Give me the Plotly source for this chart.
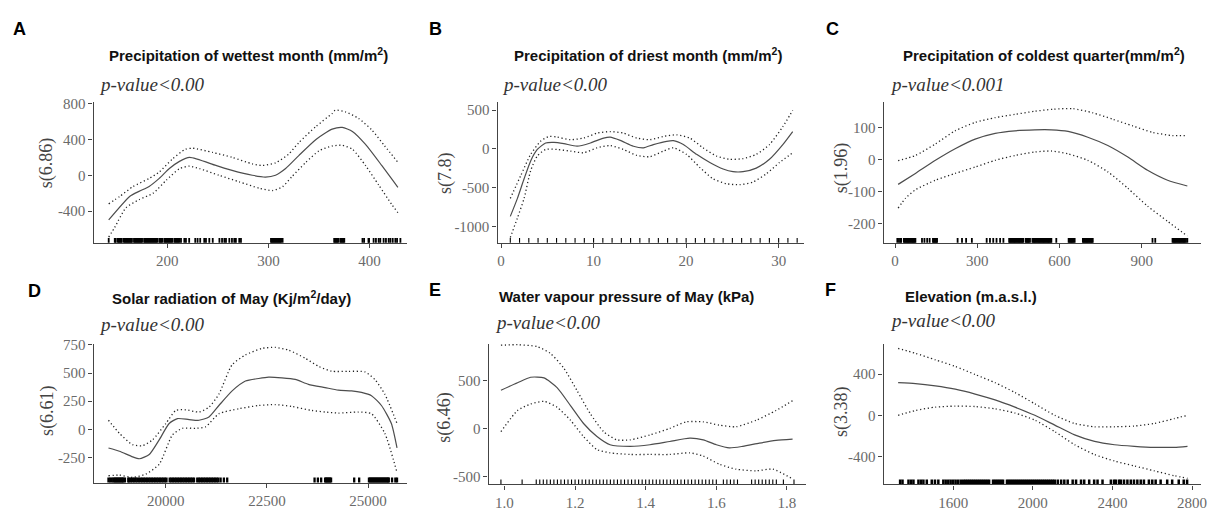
import plotly.graph_objects as go

W, H = 1213, 511

# ------------------------------------------------------------
# DATA
# ------------------------------------------------------------
# A - precipitation of wettest month
a_x = [142, 163, 172, 182, 192, 202, 212, 222, 248, 264, 284, 297, 307, 317, 330, 347, 363, 373, 383, 396, 412, 428]
a_fit = [-500, -235, -180, -125, -35, 75, 155, 200, 110, 55, 0, -20, 0, 75, 220, 400, 515, 535, 490, 345, 110, -135]
a_up_x = [142, 153, 166, 182, 192, 205, 218, 225, 245, 264, 284, 294, 307, 320, 330, 347, 363, 366, 376, 389, 402, 415, 428]
a_up = [-320, -236, -127, -36, 36, 182, 291, 302, 255, 200, 127, 109, 138, 236, 364, 545, 691, 727, 709, 636, 509, 327, 145]
a_lo_x = [142, 148, 159, 172, 186, 199, 212, 222, 232, 251, 271, 291, 304, 314, 323, 337, 350, 363, 373, 383, 396, 409, 422, 428]
a_lo = [-691, -582, -364, -273, -200, -55, 73, 102, 73, 0, -73, -145, -171, -127, -18, 145, 273, 327, 335, 291, 109, -109, -327, -418]
a_rug = [142, 148, 149, 151, 152, 153, 154, 155, 157, 158, 159, 160, 161, 162, 163, 164, 165, 167, 168, 169,
         170, 171, 172, 173, 174, 175, 177, 178, 179, 180, 181, 182, 183, 184, 185, 186, 187, 188, 189, 190,
         192, 193, 194, 195, 197, 198, 199, 200, 201, 202, 203, 204, 205, 207, 208, 209, 210, 211, 212,
         213.5, 216.8, 218.4, 221.6, 227.6, 229.9, 232.5, 236.5, 238.2, 241.5, 244.9,
         251.5, 254.1, 256.4, 258, 261.3, 263.9, 266.2, 267.8, 271.1, 272.8,
         302.5, 303.5, 304.5, 305.5, 306.5, 307.5, 308.5, 309.5, 310.5, 311.5, 312.5, 314,
         365, 366, 367, 368, 369, 371, 372, 373, 374, 375, 393, 394.6, 398.9, 399.5,
         404, 406.3, 409, 410.6, 413.9, 416.2, 418.9, 420.6, 422.9, 425.5, 427.2, 430.5]

# B - precipitation of driest month
b_x = [1.0, 1.77, 2.49, 3.2, 3.92, 4.82, 5.72, 6.79, 8.22, 9.66, 11.09, 11.8, 12.88, 14.31, 15.39, 16.46, 17.9, 18.62,
       19.7, 21.13, 22.56, 24.0, 25.07, 26.15, 27.58, 29.01, 30.45, 31.52]
b_fit = [-870, -638, -386, -155, -8, 76, 84, 67, 34, 76, 139, 151, 109, 34, 13, 55, 97, 105,
         55, -71, -176, -260, -294, -294, -248, -134, 55, 223]
b_up_x = [1.0, 2.13, 3.2, 4.27, 5.17, 6.07, 7.5, 8.93, 10.37, 11.8, 13.23, 14.67, 16.1, 17.53, 18.96, 20.4, 21.83,
          23.27, 24.7, 26.15, 27.58, 29.01, 30.45, 31.52]
b_up = [-638, -344, -71, 97, 160, 151, 118, 139, 202, 223, 202, 139, 118, 160, 181, 139, 13,
        -92, -134, -126, -71, 55, 286, 496]
b_lo_x = [1.0, 1.77, 2.49, 3.2, 3.92, 4.82, 6.07, 7.5, 8.93, 10.37, 11.8, 13.23, 14.67, 16.1, 17.53, 18.62, 20.04,
          21.48, 22.91, 24.35, 25.78, 27.22, 28.65, 30.09, 31.52]
b_lo = [-1142, -890, -638, -281, -92, -8, -8, -29, -50, 13, 42, -8, -84, -101, -29, 13, -71,
        -239, -386, -449, -462, -428, -323, -176, -50]
b_rug = [1, 2, 3, 4, 5, 6, 7, 8, 9, 10, 11, 12, 13, 14, 15, 16, 17, 18, 19, 20, 21, 22, 23, 24, 25, 26, 27, 28,
         29, 30, 31, 32]

# C - precipitation of coldest quarter
c_x = [11, 74, 147, 219, 292, 365, 437, 510, 570, 631, 703, 776, 849, 921, 994, 1066]
c_fit = [-78, -44, -3, 33, 63, 81, 89, 92, 92, 87, 69, 43, 7, -34, -65, -83]
c_up_x = [11, 74, 147, 219, 292, 365, 437, 510, 576, 649, 721, 794, 867, 939, 1012, 1066]
c_up = [-4, 12, 48, 89, 115, 130, 140, 150, 156, 158, 145, 125, 104, 84, 74, 74]
c_lo_x = [11, 38, 74, 147, 219, 292, 365, 437, 510, 570, 631, 703, 776, 849, 921, 994, 1066]
c_lo = [-152, -121, -95, -65, -44, -24, -3, 12, 23, 26, 17, -3, -39, -90, -146, -193, -239]
c_rug = [8, 14, 19, 22, 32, 35, 38, 41, 44, 47, 50, 53, 56, 59, 62, 65, 68, 71, 74, 98, 107, 117, 126,
         138, 141, 144, 147, 150, 153, 228, 244, 259, 280, 334, 346, 358, 370, 383, 395,
         416, 419, 422, 425, 428, 431, 434, 437, 440, 443, 446, 449, 452, 455, 458, 461, 464, 467,
         476, 479, 482, 485, 488, 492, 501, 504, 507, 510, 513, 516, 519, 522, 525, 528, 531, 534, 537,
         540, 543, 546, 549, 552, 555, 558, 561, 564, 567, 570, 588, 633, 636, 639, 642, 645, 648, 651, 655,
         685, 688, 691, 694, 697, 700, 703, 706, 709, 712, 715, 718, 721, 939, 949,
         1012, 1015, 1018, 1021, 1024, 1027, 1030, 1033, 1036, 1039, 1042, 1045, 1048, 1051, 1054, 1057, 1061, 1066]

# D - solar radiation of May
d_x = [18587, 18857, 19184, 19349, 19594, 19840, 20086, 20290, 20578, 20823, 21069, 21315, 21642, 21971, 22298,
       22544, 22871, 23200, 23527, 23938, 24265, 24592, 24838, 25084, 25330, 25575, 25715]
d_fit = [-165, -194, -244, -261, -223, -93, 52, 96, 87, 81, 110, 212, 342, 429, 452,
         464, 458, 444, 400, 371, 348, 342, 328, 299, 212, 52, -165]
d_up_x = [18587, 18857, 19184, 19430, 19676, 20004, 20250, 20496, 20823, 21069, 21315, 21642, 21971, 22380, 22708,
          23036, 23446, 23774, 24102, 24512, 24922, 25168, 25413, 25715]
d_up = [81, -35, -136, -145, -93, 52, 168, 174, 154, 197, 313, 574, 661, 719, 728,
        704, 632, 560, 516, 516, 510, 443, 313, 52]
d_lo_x = [18587, 18857, 19184, 19512, 19840, 20168, 20414, 20742, 20987, 21315, 21807, 22298, 22708, 23118, 23610,
          23938, 24265, 24757, 25084, 25413, 25715]
d_lo = [-412, -406, -426, -397, -310, -49, 9, 9, 23, 139, 183, 212, 220, 203, 168,
        154, 145, 154, 139, -35, -383]
d_rug = [18587, 18630, 18668, 18709, 18735, 18760, 18785, 18810, 18835, 18860, 18885, 18910, 18935, 18954,
         18994, 19076, 19100, 19140, 19180, 19220, 19260, 19300, 19340, 19380, 19420, 19460, 19500, 19540,
         19580, 19620, 19660, 19700, 19740, 19780, 19820, 19860, 19900, 19940, 19980, 20020, 20100, 20140,
         20180, 20220, 20260, 20300, 20340, 20380, 20420, 20460, 20500, 20540, 20580, 20620, 20660, 20700,
         20780, 20820, 20860, 20900, 20940, 20980, 21020, 21060, 21100, 21140, 21180, 21220, 21260, 21300,
         21357, 21438, 21520, 23678, 23760, 23841, 23939, 23960, 23985, 24010, 24035, 24060, 24086, 24657, 24780,
         25022, 25047, 25072, 25097, 25122, 25147, 25172, 25197, 25222, 25247, 25272, 25297, 25322, 25347,
         25372, 25397, 25422, 25447, 25472, 25497, 25511, 25593, 25674, 25715]

# E - water vapour pressure of May
e_x = [0.99, 1.037, 1.074, 1.112, 1.149, 1.187, 1.224, 1.262, 1.299, 1.356, 1.412, 1.468, 1.525, 1.563, 1.6,
       1.637, 1.675, 1.722, 1.769, 1.816]
e_fit = [397, 475, 532, 525, 424, 237, 51, -85, -170, -186, -170, -136, -102, -119, -170,
         -203, -186, -153, -125, -112]
e_up_x = [0.99, 1.037, 1.093, 1.13, 1.168, 1.206, 1.243, 1.281, 1.318, 1.356, 1.412, 1.468, 1.515, 1.563, 1.609,
          1.656, 1.713, 1.769, 1.816]
e_up = [865, 870, 850, 780, 627, 390, 153, -34, -119, -119, -68, 0, 68, 68, 34, 17, 85, 186, 288]
e_lo_x = [0.99, 1.037, 1.074, 1.112, 1.149, 1.187, 1.224, 1.262, 1.299, 1.356, 1.412, 1.468, 1.525, 1.563, 1.609,
          1.656, 1.713, 1.76, 1.816]
e_lo = [-34, 186, 254, 281, 220, 85, -85, -220, -254, -271, -271, -271, -254, -288, -373, -424, -441, -424, -525]
e_rug = [0.99, 1.05, 1.09, 1.10, 1.11, 1.12, 1.13, 1.14, 1.15, 1.16, 1.17, 1.18, 1.19, 1.20, 1.21, 1.22, 1.23,
         1.24, 1.25, 1.26, 1.27, 1.28, 1.29, 1.30, 1.31, 1.32, 1.33, 1.34, 1.35, 1.36, 1.37, 1.38, 1.39, 1.40,
         1.41, 1.42, 1.43, 1.44, 1.45, 1.46, 1.47, 1.48, 1.49, 1.50, 1.51, 1.52, 1.53, 1.54, 1.55, 1.56, 1.57,
         1.58, 1.59, 1.60, 1.62, 1.63, 1.64, 1.65, 1.66, 1.70, 1.71, 1.72, 1.73, 1.74, 1.75, 1.76, 1.77, 1.79, 1.82]

# F - elevation
f_x = [1323, 1410, 1510, 1610, 1710, 1810, 1910, 2010, 2110, 2210, 2310, 2410, 2510, 2610, 2710, 2777]
f_fit = [316, 307, 285, 253, 206, 149, 79, 0, -95, -190, -253, -285, -300, -310, -310, -300]
f_up = [648, 601, 538, 474, 395, 316, 221, 111, 0, -79, -111, -111, -104, -79, -32, 0]
f_lo = [0, 47, 79, 89, 85, 63, 22, -47, -158, -285, -380, -443, -490, -538, -585, -610]
f_rug = [1333, 1345, 1375, 1388, 1400, 1425, 1438, 1450, 1467, 1492, 1508, 1525, 1550, 1562, 1575, 1587, 1600,
         1612, 1625, 1638, 1650, 1660, 1670, 1680, 1690, 1700, 1710, 1720, 1730, 1740, 1750, 1760, 1770, 1780,
         1800, 1810, 1820, 1830, 1840, 1850, 1870, 1880, 1890, 1900, 1910, 1920, 1930, 1940, 1950, 1960, 1970,
         1980, 1990, 2000, 2010, 2020, 2030, 2040, 2050, 2060, 2070, 2080, 2090, 2100, 2110,
         2125, 2142, 2158, 2175, 2200, 2217, 2242, 2258, 2283, 2308, 2325, 2350, 2392, 2408, 2417, 2433, 2442,
         2458, 2475, 2492, 2508, 2525, 2542, 2558, 2583, 2600, 2617, 2642, 2675, 2700, 2733, 2758, 2775]

# tick values / labels
a_xt, a_xl = [200, 300, 400], ["200", "300", "400"]
a_yt, a_yl = [-400, 0, 400, 800], ["-400", "0", "400", "800"]
b_xt, b_xl = [0, 10, 20, 30], ["0", "10", "20", "30"]
b_yt, b_yl = [-1000, -500, 0, 500], ["-1000", "-500", "0", "500"]
c_xt, c_xl = [0, 300, 600, 900], ["0", "300", "600", "900"]
c_yt, c_yl = [-200, -100, 0, 100], ["-200", "-100", "0", "100"]
d_xt, d_xl = [20000, 22500, 25000], ["20000", "22500", "25000"]
d_yt, d_yl = [-250, 0, 250, 500, 750], ["-250", "0", "250", "500", "750"]
e_xt, e_xl = [1.0, 1.2, 1.4, 1.6, 1.8], ["1.0", "1.2", "1.4", "1.6", "1.8"]
e_yt, e_yl = [-500, 0, 500], ["-500", "0", "500"]
f_xt, f_xl = [1600, 2000, 2400, 2800], ["1600", "2000", "2400", "2800"]
f_yt, f_yl = [-400, 0, 400], ["-400", "0", "400"]

# ------------------------------------------------------------
# PANELS (data + placement in pixels of the 1213x511 page)
# ------------------------------------------------------------
paneles = [
    dict(letra="A", titulo="Precipitation of wettest month (mm/m<sup>2</sup>)", pval="p-value&lt;0.00", ylab="s(6.86)",
         fit=(a_x, a_fit), up=(a_up_x, a_up), lo=(a_lo_x, a_lo), rug=a_rug, rug_w=1.8,
         xt=(a_xt, a_xl), yt=(a_yt, a_yl), xr=[127, 437], yr=[-755, 820],
         box=(94, 409, 98, 242), p_letra=(20, 24), p_tit=(250, 50), p_pval=(97, 80), p_ylab=(47, 160)),
    dict(letra="B", titulo="Precipitation of driest month (mm/m<sup>2</sup>)", pval="p-value&lt;0.00", ylab="s(7.8)",
         fit=(b_x, b_fit), up=(b_up_x, b_up), lo=(b_lo_x, b_lo), rug=b_rug, rug_w=1.1,
         xt=(b_xt, b_xl), yt=(b_yt, b_yl), xr=[-0.38, 32.74], yr=[-1210, 605],
         box=(500, 808, 98, 242), p_letra=(438, 24), p_tit=(651, 50), p_pval=(502, 80), p_ylab=(448, 171)),
    dict(letra="C", titulo="Precipitation of coldest quarter(mm/m<sup>2</sup>)", pval="p-value&lt;0.001", ylab="s(1.96)",
         fit=(c_x, c_fit), up=(c_up_x, c_up), lo=(c_lo_x, c_lo), rug=c_rug, rug_w=1.8,
         xt=(c_xt, c_xl), yt=(c_yt, c_yl), xr=[-42, 1116], yr=[-260, 179],
         box=(888, 1207, 98, 242), p_letra=(837, 24), p_tit=(1049, 50), p_pval=(892, 80), p_ylab=(846, 165)),
    dict(letra="D", titulo="Solar radiation of May (Kj/m<sup>2</sup>/day)", pval="p-value&lt;0.00", ylab="s(6.61)",
         fit=(d_x, d_fit), up=(d_up_x, d_up), lo=(d_lo_x, d_lo), rug=d_rug, rug_w=2.3,
         xt=(d_xt, d_xl), yt=(d_yt, d_yl), xr=[18218, 25961], yr=[-472, 762],
         box=(94, 409, 345, 487), p_letra=(35, 291), p_tit=(233, 298), p_pval=(97, 325), p_ylab=(47, 413)),
    dict(letra="E", titulo="Water vapour pressure of May (kPa)", pval="p-value&lt;0.00", ylab="s(6.46)",
         fit=(e_x, e_fit), up=(e_up_x, e_up), lo=(e_lo_x, e_lo), rug=e_rug, rug_w=1.1,
         xt=(e_xt, e_xl), yt=(e_yt, e_yl), xr=[0.955, 1.854], yr=[-583, 882],
         box=(491, 810, 345, 489), p_letra=(437, 290), p_tit=(630, 297), p_pval=(495, 323), p_ylab=(447, 420)),
    dict(letra="F", titulo="Elevation (m.a.s.l.)", pval="p-value&lt;0.00", ylab="s(3.38)",
         fit=(f_x, f_fit), up=(f_x, f_up), lo=(f_x, f_lo), rug=f_rug, rug_w=2.5,
         xt=(f_xt, f_xl), yt=(f_yt, f_yl), xr=[1250, 2845], yr=[-670, 695],
         box=(888, 1207, 345, 489), p_letra=(835, 290), p_tit=(976, 297), p_pval=(892, 321), p_ylab=(845, 414)),
]

eje = dict(showline=True, linecolor="#444", linewidth=1.3, ticks="outside", ticklen=4, tickwidth=1.1,
           tickcolor="#444", showgrid=False, zeroline=False, tickmode="array",
           tickfont=dict(family="Liberation Serif", size=15, color="#6a6a6a"))

fig = go.Figure()
anots = []

for i, p in enumerate(paneles, start=1):
    sfx = "" if i == 1 else str(i)
    xa, ya, ra = "x" + sfx, "y" + sfx, "y" + str(i + 6)

    fig.add_trace(go.Scatter(x=p["fit"][0], y=p["fit"][1], xaxis=xa, yaxis=ya, mode="lines",
                             line=dict(color="#4d4d4d", width=1.2, shape="spline", smoothing=0.6),
                             hoverinfo="skip"))
    for k in ("up", "lo"):
        fig.add_trace(go.Scatter(x=p[k][0], y=p[k][1], xaxis=xa, yaxis=ya, mode="lines",
                                 line=dict(color="#222", width=1.3, dash="1.2px,2.6px", shape="spline", smoothing=0.6),
                                 hoverinfo="skip"))
    # rug along the x axis: ticks centred on the axis line, lower half clipped away
    fig.add_trace(go.Scatter(x=p["rug"], y=[0] * len(p["rug"]), xaxis=xa, yaxis=ra, mode="markers",
                             cliponaxis=True,
                             marker=dict(symbol="line-ns", size=7, color="black",
                                         line=dict(width=p["rug_w"], color="black")),
                             hoverinfo="skip"))

    x0, x1, y0, y1 = p["box"]
    fig.update_layout({
        "xaxis" + sfx: dict(domain=[x0 / W, x1 / W], anchor=ya, range=p["xr"],
                            tickvals=p["xt"][0], ticktext=p["xt"][1], **eje),
        "yaxis" + sfx: dict(domain=[1 - y1 / H, 1 - y0 / H], anchor=xa, range=p["yr"],
                            tickvals=p["yt"][0], ticktext=p["yt"][1], **eje),
        "yaxis" + str(i + 6): dict(overlaying=ya, anchor=xa, range=[0, 1], visible=False),
    })

    anots.append(dict(text="<b>" + p["letra"] + "</b>", x=p["p_letra"][0] / W, y=1 - p["p_letra"][1] / H,
                      xanchor="center", yanchor="middle",
                      font=dict(family="Liberation Sans", size=18, color="black")))
    anots.append(dict(text="<b>" + p["titulo"] + "</b>", x=p["p_tit"][0] / W, y=1 - p["p_tit"][1] / H,
                      xanchor="center", yanchor="middle",
                      font=dict(family="Liberation Sans", size=15, color="#111")))
    anots.append(dict(text="<i>" + p["pval"] + "</i>", x=p["p_pval"][0] / W, y=1 - p["p_pval"][1] / H,
                      xanchor="left", yanchor="middle",
                      font=dict(family="Liberation Serif", size=19, color="#333")))
    anots.append(dict(text=p["ylab"], x=p["p_ylab"][0] / W, y=1 - p["p_ylab"][1] / H, textangle=-90,
                      xanchor="center", yanchor="middle",
                      font=dict(family="Liberation Serif", size=18, color="#444")))

for a in anots:
    a.update(xref="paper", yref="paper", showarrow=False)

fig.update_layout(width=W, height=H, margin=dict(l=0, r=0, t=0, b=0), showlegend=False,
                  plot_bgcolor="white", paper_bgcolor="white", annotations=anots)

# the page's default 8px body margin would push the figure off the 1213x511 window
fig.write_html("out.html", config={"displayModeBar": False},
               post_script="document.body.style.margin='0';")
